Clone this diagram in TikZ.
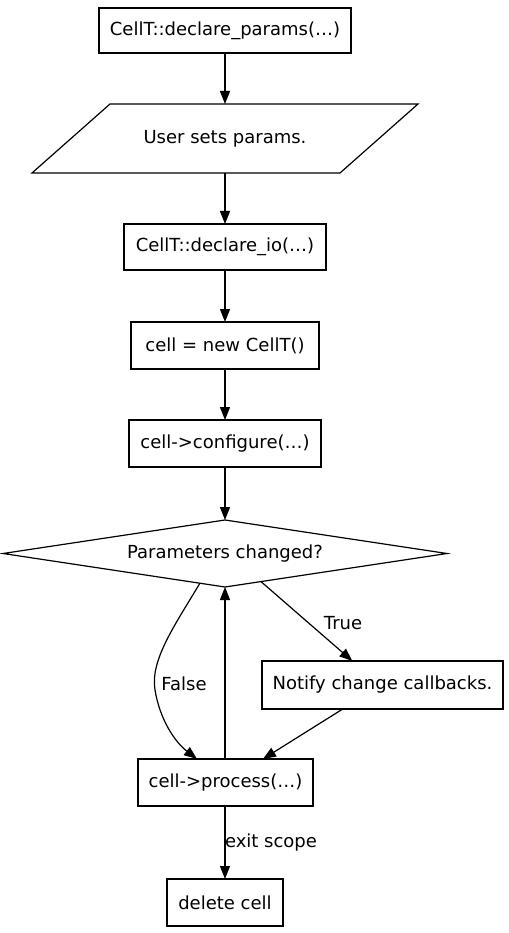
\documentclass[tikz,border=0pt]{standalone}
\usepackage{fontspec}
\setmainfont{DejaVu Sans}
\usetikzlibrary{arrows.meta,shapes.geometric,calc}
\begin{document}
\begin{tikzpicture}[x=1pt,y=-1pt,
  every node/.style={font=\fontsize{18}{21}\selectfont},
  box/.style={draw,line width=1.2pt,rectangle,inner sep=0pt,outer sep=0pt},
  ghost/.style={rectangle,inner sep=0pt,outer sep=0pt},
  arr/.style={line width=1.2pt,-{Triangle[length=13pt,width=10pt]}},
  lbl/.style={inner sep=0pt}]
\useasboundingbox (0,0) rectangle (508,933);
\node[box,minimum width=252pt,minimum height=45pt] (decl) at (225,30.5) {CellT::declare\_params(…)};
\draw[line width=1.2pt] (110,104)--(418,104)--(340,173)--(32,173)--cycle;
\node[ghost,minimum width=200pt,minimum height=69pt] (user) at (225,138.5) {User sets params.};
\node[box,minimum width=202pt,minimum height=46pt] (io) at (225,247) {CellT::declare\_io(…)};
\node[box,minimum width=188pt,minimum height=47pt] (newc) at (225,345.5) {cell = new CellT()};
\node[box,minimum width=192pt,minimum height=47pt] (conf) at (225,443.5) {cell->configure(…)};
\node[diamond,draw,line width=1.2pt,inner sep=0pt,outer sep=0pt,aspect=6.6,minimum width=444pt,minimum height=67pt] (dec) at (225,553.5) {Parameters changed?};
\node[box,minimum width=241pt,minimum height=48pt] (notify) at (382.5,685) {Notify change callbacks.};
\node[box,minimum width=175pt,minimum height=47pt] (proc) at (225.5,782.5) {cell->process(…)};
\node[box,minimum width=116pt,minimum height=47pt] (del) at (225,902.5) {delete cell};

\draw[arr] (decl) -- (user);
\draw[arr] (user) -- (io);
\draw[arr] (io) -- (newc);
\draw[arr] (newc) -- (conf);
\draw[arr] (conf.south) -- (dec.north);
\draw[arr] ($(dec.south)!0.162!(dec.east)$) -- ($(notify.north west)!0.375!(notify.north east)$);
\node[lbl] (tl) at (343,623) {True};
\draw[arr] ($(dec.south)!0.113!(dec.west)$) .. controls (175,625) and (150,660) .. (155,690) .. controls (160,720) and (175,742) .. ($(proc.north west)!0.337!(proc.north east)$);
\node[lbl] (fl) at (184,684) {False};
\draw[arr] (proc.north -| dec.south) -- (dec.south);
\draw[arr] ($(notify.south west)!0.335!(notify.south east)$) -- ($(proc.north west)!0.714!(proc.north east)$);
\draw[arr] (proc.south -| del.north) -- (del.north);
\node[lbl] (el) at (271,843) {exit scope};
\end{tikzpicture}
\end{document}
